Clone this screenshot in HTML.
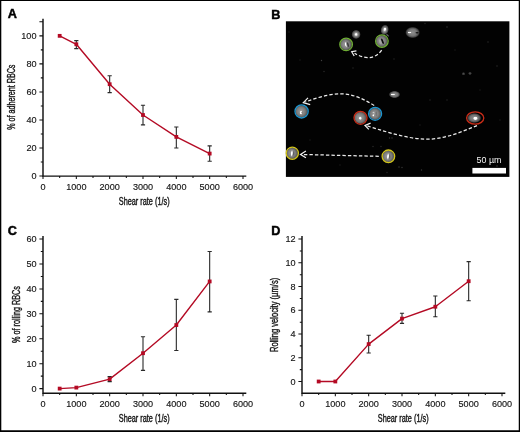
<!DOCTYPE html>
<html><head><meta charset="utf-8">
<style>
html,body{margin:0;padding:0;background:#fff;}
body{width:520px;height:432px;overflow:hidden;font-family:"Liberation Sans",sans-serif;}
svg{display:block;will-change:transform;opacity:0.999;}
text{font-family:"Liberation Sans",sans-serif;fill:#161616;}
.tk{font-size:9.1px;stroke:#161616;stroke-width:0.15;}
.lab{font-size:10.7px;stroke:#161616;stroke-width:0.4;}
.pl{font-size:12.7px;font-weight:bold;fill:#000;stroke:#000;stroke-width:0.45;}
.ax{stroke:#111;stroke-width:1.45;fill:none;}
.tkl{stroke:#111;stroke-width:1.05;fill:none;}
.eb{stroke:#2a2a2a;stroke-width:1.1;fill:none;}
.ln{stroke:#b40a24;stroke-width:1.4;fill:none;stroke-linejoin:round;}
.mk{fill:#b40a24;}
.da{stroke:#ececec;stroke-width:1.25;fill:none;stroke-dasharray:3.4 2.1;}
.ah{stroke:#f2f2f2;stroke-width:1.2;fill:none;stroke-linejoin:miter;}
</style></head><body>
<svg width="520" height="432" viewBox="0 0 520 432">
<defs>
<filter id="soft" x="280" y="15" width="235" height="170" filterUnits="userSpaceOnUse"><feGaussianBlur stdDeviation="0.4"/></filter>
<radialGradient id="cellg" cx="45%" cy="50%" r="55%">
<stop offset="0" stop-color="#a0a0a0"/><stop offset="0.6" stop-color="#7c7c7c"/><stop offset="1" stop-color="#4c4c4c"/>
</radialGradient>
<radialGradient id="halo">
<stop offset="0" stop-color="#ddd"/><stop offset="0.4" stop-color="#8c8c8c"/><stop offset="0.8" stop-color="#444"/><stop offset="1" stop-color="#222" stop-opacity="0"/>
</radialGradient>
<radialGradient id="blob">
<stop offset="0" stop-color="#8e8e8e"/><stop offset="0.55" stop-color="#757575"/><stop offset="0.8" stop-color="#4a4a4a"/><stop offset="1" stop-color="#222" stop-opacity="0"/>
</radialGradient>
<radialGradient id="core">
<stop offset="0" stop-color="#fff"/><stop offset="0.6" stop-color="#fff"/><stop offset="1" stop-color="#ddd" stop-opacity="0.3"/>
</radialGradient>
</defs>
<rect x="0" y="0" width="520" height="432" fill="#fff"/>
<path d="M0 0H520V432H0Z M1.3 1.05V430.35H518.75V1.05Z" fill="#000" fill-rule="evenodd"/>
<g id="A"><text class="pl" x="7.7" y="18.4">A</text>
<path class="ax" d="M43 18.8V176.1H246.3"/>
<path class="tkl" d="M39.4 176H43M39.4 147.97H43M39.4 119.94H43M39.4 91.91H43M39.4 63.88H43M39.4 35.85H43M40.8 161.99H43M40.8 133.95H43M40.8 105.92H43M40.8 77.89H43M40.8 49.87H43M39.4 21.84H43M43 176.1V179.1M76.33 176.1V179.1M109.67 176.1V179.1M143 176.1V179.1M176.33 176.1V179.1M209.67 176.1V179.1M243 176.1V179.1M59.67 176.1V178M93 176.1V178M126.33 176.1V178M159.67 176.1V178M193 176.1V178M226.33 176.1V178"/>
<text class="tk" text-anchor="end" x="36.5" y="179">0</text>
<text class="tk" text-anchor="end" x="36.5" y="150.97">20</text>
<text class="tk" text-anchor="end" x="36.5" y="122.94">40</text>
<text class="tk" text-anchor="end" x="36.5" y="94.91">60</text>
<text class="tk" text-anchor="end" x="36.5" y="66.88">80</text>
<text class="tk" text-anchor="end" x="36.5" y="38.85">100</text>
<text class="tk" text-anchor="middle" x="43" y="190.2">0</text>
<text class="tk" text-anchor="middle" x="76.33" y="190.2">1000</text>
<text class="tk" text-anchor="middle" x="109.67" y="190.2">2000</text>
<text class="tk" text-anchor="middle" x="143" y="190.2">3000</text>
<text class="tk" text-anchor="middle" x="176.33" y="190.2">4000</text>
<text class="tk" text-anchor="middle" x="209.67" y="190.2">5000</text>
<text class="tk" text-anchor="middle" x="243" y="190.2">6000</text>
<text class="lab" text-anchor="middle" x="144.2" y="205" textLength="50.8" lengthAdjust="spacingAndGlyphs">Shear rate (1/s)</text>
<text class="lab" text-anchor="middle" transform="translate(15.3 97.2) rotate(-90)" textLength="65.2" lengthAdjust="spacingAndGlyphs">% of adherent RBCs</text>
<path class="eb" d="M76.33 40.62V48.6M74.23 40.62H78.43M74.23 48.6H78.43M109.67 75.79V92.61M107.57 75.79H111.77M107.57 92.61H111.77M143 105.22V124.85M140.9 105.22H145.1M140.9 124.85H145.1M176.33 126.95V147.97M174.23 126.95H178.43M174.23 147.97H178.43M209.67 145.87V161.28M207.57 145.87H211.77M207.57 161.28H211.77"/>
<path class="ln" d="M59.67 35.85L76.33 44.26L109.67 84.2L143 115.03L176.33 136.9L209.67 153.58"/>
<rect class="mk" x="57.77" y="33.95" width="3.8" height="3.8"/>
<rect class="mk" x="74.43" y="42.36" width="3.8" height="3.8"/>
<rect class="mk" x="107.77" y="82.3" width="3.8" height="3.8"/>
<rect class="mk" x="141.1" y="113.13" width="3.8" height="3.8"/>
<rect class="mk" x="174.43" y="135" width="3.8" height="3.8"/>
<rect class="mk" x="207.77" y="151.68" width="3.8" height="3.8"/></g>
<g id="C"><text class="pl" x="7.8" y="234.7">C</text>
<path class="ax" d="M43 236.1V393.2H246.3"/>
<path class="tkl" d="M39.4 388.6H43M39.4 363.68H43M39.4 338.76H43M39.4 313.84H43M39.4 288.92H43M39.4 264H43M39.4 239.08H43M40.8 376.14H43M40.8 351.22H43M40.8 326.3H43M40.8 301.38H43M40.8 276.46H43M40.8 251.54H43M43 393.2V396.2M76.33 393.2V396.2M109.67 393.2V396.2M143 393.2V396.2M176.33 393.2V396.2M209.67 393.2V396.2M243 393.2V396.2M59.67 393.2V395.1M93 393.2V395.1M126.33 393.2V395.1M159.67 393.2V395.1M193 393.2V395.1M226.33 393.2V395.1"/>
<text class="tk" text-anchor="end" x="36.5" y="391.6">0</text>
<text class="tk" text-anchor="end" x="36.5" y="366.68">10</text>
<text class="tk" text-anchor="end" x="36.5" y="341.76">20</text>
<text class="tk" text-anchor="end" x="36.5" y="316.84">30</text>
<text class="tk" text-anchor="end" x="36.5" y="291.92">40</text>
<text class="tk" text-anchor="end" x="36.5" y="267">50</text>
<text class="tk" text-anchor="end" x="36.5" y="242.08">60</text>
<text class="tk" text-anchor="middle" x="43" y="407.3">0</text>
<text class="tk" text-anchor="middle" x="76.33" y="407.3">1000</text>
<text class="tk" text-anchor="middle" x="109.67" y="407.3">2000</text>
<text class="tk" text-anchor="middle" x="143" y="407.3">3000</text>
<text class="tk" text-anchor="middle" x="176.33" y="407.3">4000</text>
<text class="tk" text-anchor="middle" x="209.67" y="407.3">5000</text>
<text class="tk" text-anchor="middle" x="243" y="407.3">6000</text>
<text class="lab" text-anchor="middle" x="144.2" y="422.1" textLength="50.8" lengthAdjust="spacingAndGlyphs">Shear rate (1/s)</text>
<text class="lab" text-anchor="middle" transform="translate(20.3 314.5) rotate(-90)" textLength="56.8" lengthAdjust="spacingAndGlyphs">% of rolling RBCs</text>
<path class="eb" d="M109.67 376.64V381.62M107.57 376.64H111.77M107.57 381.62H111.77M143 336.77V370.41M140.9 336.77H145.1M140.9 370.41H145.1M176.33 299.39V350.47M174.23 299.39H178.43M174.23 350.47H178.43M209.67 251.54V311.85M207.57 251.54H211.77M207.57 311.85H211.77"/>
<path class="ln" d="M59.67 388.6L76.33 387.6L109.67 379.13L143 353.21L176.33 325.05L209.67 281.44"/>
<rect class="mk" x="57.77" y="386.7" width="3.8" height="3.8"/>
<rect class="mk" x="74.43" y="385.7" width="3.8" height="3.8"/>
<rect class="mk" x="107.77" y="377.23" width="3.8" height="3.8"/>
<rect class="mk" x="141.1" y="351.31" width="3.8" height="3.8"/>
<rect class="mk" x="174.43" y="323.15" width="3.8" height="3.8"/>
<rect class="mk" x="207.77" y="279.54" width="3.8" height="3.8"/></g>
<g id="D"><text class="pl" x="271.2" y="234.7">D</text>
<path class="ax" d="M302 236.1V393.2H505.3"/>
<path class="tkl" d="M298.4 381.5H302M298.4 357.76H302M298.4 334.02H302M298.4 310.28H302M298.4 286.54H302M298.4 262.8H302M298.4 239.06H302M299.8 369.63H302M299.8 345.89H302M299.8 322.15H302M299.8 298.41H302M299.8 274.67H302M299.8 250.93H302M302 393.2V396.2M335.33 393.2V396.2M368.67 393.2V396.2M402 393.2V396.2M435.33 393.2V396.2M468.67 393.2V396.2M502 393.2V396.2M318.67 393.2V395.1M352 393.2V395.1M385.33 393.2V395.1M418.67 393.2V395.1M452 393.2V395.1M485.33 393.2V395.1"/>
<text class="tk" text-anchor="end" x="295.5" y="384.5">0</text>
<text class="tk" text-anchor="end" x="295.5" y="360.76">2</text>
<text class="tk" text-anchor="end" x="295.5" y="337.02">4</text>
<text class="tk" text-anchor="end" x="295.5" y="313.28">6</text>
<text class="tk" text-anchor="end" x="295.5" y="289.54">8</text>
<text class="tk" text-anchor="end" x="295.5" y="265.8">10</text>
<text class="tk" text-anchor="end" x="295.5" y="242.06">12</text>
<text class="tk" text-anchor="middle" x="302" y="407.3">0</text>
<text class="tk" text-anchor="middle" x="335.33" y="407.3">1000</text>
<text class="tk" text-anchor="middle" x="368.67" y="407.3">2000</text>
<text class="tk" text-anchor="middle" x="402" y="407.3">3000</text>
<text class="tk" text-anchor="middle" x="435.33" y="407.3">4000</text>
<text class="tk" text-anchor="middle" x="468.67" y="407.3">5000</text>
<text class="tk" text-anchor="middle" x="502" y="407.3">6000</text>
<text class="lab" text-anchor="middle" x="403.2" y="422.1" textLength="50.8" lengthAdjust="spacingAndGlyphs">Shear rate (1/s)</text>
<text class="lab" text-anchor="middle" transform="translate(278.4 314.9) rotate(-90)" textLength="74.2" lengthAdjust="spacingAndGlyphs">Rolling velocity (&#181;m/s)</text>
<path class="eb" d="M368.67 335.21V353.01M366.57 335.21H370.77M366.57 353.01H370.77M402 313.25V323.34M399.9 313.25H404.1M399.9 323.34H404.1M435.33 296.04V316.81M433.23 296.04H437.43M433.23 316.81H437.43M468.67 261.61V300.78M466.57 261.61H470.77M466.57 300.78H470.77"/>
<path class="ln" d="M318.67 381.5L335.33 381.5L368.67 344.11L402 318.59L435.33 306.72L468.67 281.2"/>
<rect class="mk" x="316.77" y="379.6" width="3.8" height="3.8"/>
<rect class="mk" x="333.43" y="379.6" width="3.8" height="3.8"/>
<rect class="mk" x="366.77" y="342.21" width="3.8" height="3.8"/>
<rect class="mk" x="400.1" y="316.69" width="3.8" height="3.8"/>
<rect class="mk" x="433.43" y="304.82" width="3.8" height="3.8"/>
<rect class="mk" x="466.77" y="279.3" width="3.8" height="3.8"/></g>
<g id="B"><text class="pl" x="271.2" y="18.6">B</text>
<rect x="285.9" y="21.3" width="223.5" height="155.6" fill="#020202"/>
<g filter="url(#soft)">
<ellipse cx="356.1" cy="34.4" rx="4.8" ry="4.8" fill="url(#halo)"/>
<ellipse cx="356.1" cy="34.4" rx="1.5" ry="1.5" fill="url(#core)"/>
<ellipse cx="384.7" cy="29.8" rx="4.2" ry="5.4" fill="url(#halo)" transform="rotate(15 384.7 29.8)"/>
<ellipse cx="384.9" cy="29.3" rx="1.4" ry="1.8" fill="url(#core)" transform="rotate(15 384.9 29.3)"/>
<ellipse cx="387.5" cy="35.2" rx="2.6" ry="1.2" fill="url(#halo)" transform="rotate(40 387.5 35.2)" opacity="0.5"/>
<ellipse cx="412.6" cy="32.5" rx="7.6" ry="5.9" fill="url(#blob)"/>
<ellipse cx="409.6" cy="32.6" rx="2" ry="1" fill="url(#core)"/>
<ellipse cx="417.1" cy="32.8" rx="1.6" ry="0.8" fill="#111"/>
<ellipse cx="394.5" cy="94.5" rx="5.9" ry="3.8" fill="url(#blob)"/>
<ellipse cx="392.9" cy="94.5" rx="2.3" ry="0.9" fill="url(#core)"/>
<ellipse cx="463.5" cy="73.8" rx="2" ry="1.8" fill="url(#halo)" opacity="0.4"/>
<ellipse cx="470" cy="73.4" rx="2" ry="1.8" fill="url(#halo)" opacity="0.4"/>
<circle cx="321.5" cy="60.5" r="0.7" fill="#fff" opacity="0.24"/>
<circle cx="324" cy="71.5" r="0.7" fill="#fff" opacity="0.17"/>
<circle cx="353" cy="68" r="0.7" fill="#fff" opacity="0.14"/>
<circle cx="497" cy="66" r="0.7" fill="#fff" opacity="0.17"/>
<circle cx="425" cy="23.5" r="0.7" fill="#fff" opacity="0.14"/>
<circle cx="447" cy="27" r="0.7" fill="#fff" opacity="0.21"/>
<circle cx="488" cy="42" r="0.7" fill="#fff" opacity="0.17"/>
<circle cx="394" cy="59" r="0.7" fill="#fff" opacity="0.14"/>
<circle cx="430" cy="100" r="0.7" fill="#fff" opacity="0.14"/>
<circle cx="447" cy="100" r="0.7" fill="#fff" opacity="0.14"/>
<circle cx="389.5" cy="138" r="0.7" fill="#fff" opacity="0.21"/>
<circle cx="392" cy="138" r="0.7" fill="#fff" opacity="0.21"/>
<circle cx="373" cy="146.5" r="0.7" fill="#fff" opacity="0.17"/>
<circle cx="381" cy="146.5" r="0.7" fill="#fff" opacity="0.17"/>
<circle cx="399" cy="167" r="0.7" fill="#fff" opacity="0.21"/>
<circle cx="402" cy="167.5" r="0.7" fill="#fff" opacity="0.21"/>
<circle cx="421.5" cy="170" r="0.7" fill="#fff" opacity="0.21"/>
<circle cx="387" cy="172.5" r="0.7" fill="#fff" opacity="0.14"/>
<circle cx="445" cy="136" r="0.7" fill="#fff" opacity="0.14"/>
<circle cx="450" cy="136" r="0.7" fill="#fff" opacity="0.14"/>
<circle cx="289" cy="32" r="0.7" fill="#fff" opacity="0.1"/>
<circle cx="300" cy="60" r="0.7" fill="#fff" opacity="0.1"/>
<circle cx="310" cy="140" r="0.7" fill="#fff" opacity="0.1"/>
<circle cx="340" cy="165" r="0.7" fill="#fff" opacity="0.1"/>
<circle cx="455" cy="50" r="0.7" fill="#fff" opacity="0.1"/>
<circle cx="480" cy="90" r="0.7" fill="#fff" opacity="0.1"/>
<circle cx="500" cy="120" r="0.7" fill="#fff" opacity="0.1"/>
<circle cx="497" cy="166" r="0.7" fill="#fff" opacity="0.24"/>
<circle cx="420" cy="125" r="0.7" fill="#fff" opacity="0.1"/>
<ellipse cx="346.1" cy="44.4" rx="5.9" ry="5.9" fill="url(#cellg)"/>
<ellipse cx="345.8" cy="44.7" rx="0.8" ry="2.9" fill="url(#core)" transform="rotate(-12 345.8 44.7)"/>
<ellipse cx="348" cy="44.6" rx="0.7" ry="2.4" fill="#222" transform="rotate(-12 348 44.6)" opacity="0.9"/>
<ellipse cx="346.1" cy="44.4" rx="6.3" ry="6.3" fill="none" stroke="#6fae35" stroke-width="1.3"/>
<ellipse cx="381.9" cy="41.1" rx="5.9" ry="5.9" fill="url(#cellg)"/>
<ellipse cx="382.5" cy="41.3" rx="0.9" ry="3" fill="#0a0a0a" transform="rotate(-22 382.5 41.3)"/>
<ellipse cx="380.3" cy="41.9" rx="1.2" ry="2.6" fill="#bbb" transform="rotate(-22 380.3 41.9)" opacity="0.5"/>
<ellipse cx="381.9" cy="41.1" rx="6.3" ry="6.3" fill="none" stroke="#6fae35" stroke-width="1.3"/>
<ellipse cx="301.6" cy="111.4" rx="6.2" ry="6.2" fill="url(#cellg)"/>
<ellipse cx="301.1" cy="112.6" rx="1.4" ry="2.1" fill="url(#core)"/>
<ellipse cx="302.1" cy="112.6" rx="0.7" ry="1.1" fill="#777"/>
<ellipse cx="301.6" cy="111.4" rx="6.6" ry="6.6" fill="none" stroke="#1b95d0" stroke-width="1.3"/>
<ellipse cx="375.1" cy="113.8" rx="6.1" ry="6.1" fill="url(#cellg)"/>
<ellipse cx="373.2" cy="115.4" rx="0.9" ry="1.3" fill="url(#core)"/>
<ellipse cx="373.5" cy="112.4" rx="0.9" ry="0.6" fill="#ddd" opacity="0.8"/>
<ellipse cx="376.1" cy="113.8" rx="0.5" ry="2.2" fill="#555" opacity="0.8"/>
<ellipse cx="375.1" cy="113.8" rx="6.5" ry="6.5" fill="none" stroke="#1b95d0" stroke-width="1.3"/>
<ellipse cx="360.5" cy="117.8" rx="6.1" ry="6.1" fill="url(#cellg)"/>
<ellipse cx="360.3" cy="118.2" rx="1.5" ry="1.7" fill="url(#core)"/>
<ellipse cx="360.5" cy="117.8" rx="6.5" ry="6.5" fill="none" stroke="#c92c18" stroke-width="1.3"/>
<ellipse cx="474.2" cy="118" rx="7.4" ry="5.2" fill="url(#blob)"/>
<ellipse cx="475.4" cy="118.3" rx="2.4" ry="1.9" fill="url(#core)"/>
<ellipse cx="475.2" cy="118" rx="8.6" ry="6.2" fill="none" stroke="#c92c18" stroke-width="1.3"/>
<ellipse cx="292.3" cy="153.2" rx="5.7" ry="5.7" fill="url(#cellg)"/>
<ellipse cx="291.9" cy="153.3" rx="0.9" ry="3.5" fill="url(#core)" transform="rotate(3 291.9 153.3)"/>
<ellipse cx="293.7" cy="153.4" rx="0.5" ry="2.2" fill="#444" opacity="0.8"/>
<ellipse cx="292.3" cy="153.2" rx="6.1" ry="6.1" fill="none" stroke="#d2c51c" stroke-width="1.3"/>
<ellipse cx="388.4" cy="156.3" rx="5.9" ry="5.9" fill="url(#cellg)"/>
<ellipse cx="388" cy="156.4" rx="0.9" ry="3.5" fill="url(#core)" transform="rotate(3 388 156.4)"/>
<ellipse cx="389.8" cy="156.5" rx="0.5" ry="2.2" fill="#444" opacity="0.8"/>
<ellipse cx="388.4" cy="156.3" rx="6.3" ry="6.3" fill="none" stroke="#d2c51c" stroke-width="1.3"/>
<path class="da" d="M381.7 50.2C377.5 56 372 57.8 367.5 57.6C362.5 57.4 358 55.4 354.6 53.2"/>
<path class="ah" d="M356.4 50.9L351.7 51.7L354.2 56"/>
<path class="da" d="M374.2 105.6C364 99 352 93.6 340 93.8C328 94 316 98 305.4 102"/>
<path class="ah" d="M308 97.8L303.3 102.7L310.2 104.6"/>
<path class="da" d="M477 125.6C462 131.5 447 138.4 430 139.1C412 139.7 394 134 380 129.9L367.2 125.9"/>
<path class="ah" d="M370.6 123.1L365 125.5L368.8 129.3"/>
<path class="da" d="M378.8 156.3L303 154.5"/>
<path class="ah" d="M305.9 151.1L300.5 154.4L305.9 157.8"/>
</g>
<rect x="472.4" y="167.9" width="33.6" height="5.6" fill="#fff"/>
<text x="489" y="162.7" text-anchor="middle" textLength="24.9" lengthAdjust="spacingAndGlyphs" style="font-size:8.4px;fill:#f4f4f4">50 &#181;m</text></g>
</svg>
</body></html>
